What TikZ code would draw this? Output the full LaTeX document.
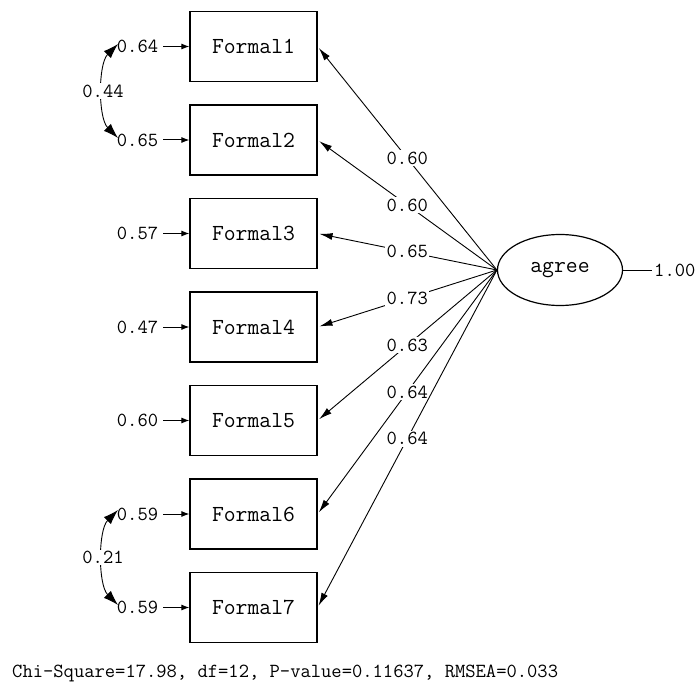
\documentclass[tikz,border=0pt]{standalone}
\usetikzlibrary{arrows.meta,shapes.geometric}
\begin{document}
\begin{tikzpicture}[x=1pt,y=-1pt,
  obs/.style={draw,line width=1.2pt,minimum width=127pt,minimum height=70pt,
    inner sep=0pt,font=\fontsize{23}{23}\selectfont\ttfamily},
  lat/.style={draw,ellipse,line width=1.2pt,minimum width=125pt,minimum height=71pt,
    inner sep=0pt,font=\fontsize{23}{23}\selectfont\ttfamily},
  num/.style={font=\fontsize{20}{20}\selectfont\ttfamily,inner sep=2pt},
  lbl/.style={num,fill=white,inner sep=1.5pt},
  load/.style={line width=0.9pt,-{Latex[length=13pt,width=7pt]},shorten >=2pt},
  err/.style={line width=1pt,-{Latex[length=8pt,width=6pt]},shorten <=3pt},
  cov/.style={line width=0.9pt,
    {Latex[length=15pt,width=10pt]}-{Latex[length=15pt,width=10pt]}}
]
\useasboundingbox (0,0) rectangle (698,684);

% observed indicators
\foreach \i/\yy in {1/46.5,2/140,3/233.5,4/327,5/420.5,6/514,7/607.5}
  \node[obs] (f\i) at (253.5,\yy) {Formal\i};

% latent factor
\node[lat] (ag) at (560,270) {agree};
\node[num,anchor=west] (v) at (652,270) {1.00};
\draw[line width=0.9pt] (ag.east) -- (v.west);

% error variances
\foreach \i/\v in {1/0.64,2/0.65,3/0.57,4/0.47,5/0.60,6/0.59,7/0.59}
  \node[num] (e\i) at (137.5,0 |- f\i) {\v};
\foreach \i in {1,...,7}
  \draw[err] (e\i.east) -- (f\i.west);

% error covariances
\coordinate (c1) at (118,44);
\coordinate (c2) at (118,138);
\coordinate (c6) at (118,510);
\coordinate (c7) at (118,605);
\draw[cov] (c1) .. controls (98,64) and (98,118) .. node[lbl] {0.44} (c2);
\draw[cov] (c6) .. controls (98,530) and (98,585) .. node[lbl] {0.21} (c7);

% factor loadings
\foreach \i/\v in {1/0.60,2/0.60,3/0.65,4/0.73,5/0.63,6/0.64,7/0.64}
  \draw[load] (ag.west) -- node[lbl,pos=0.5] {\v} (f\i.east);

% fit statistics
\node[num,anchor=west] (fit) at (10,673)
  {Chi-Square=17.98, df=12, P-value=0.11637, RMSEA=0.033};
\end{tikzpicture}
\end{document}
